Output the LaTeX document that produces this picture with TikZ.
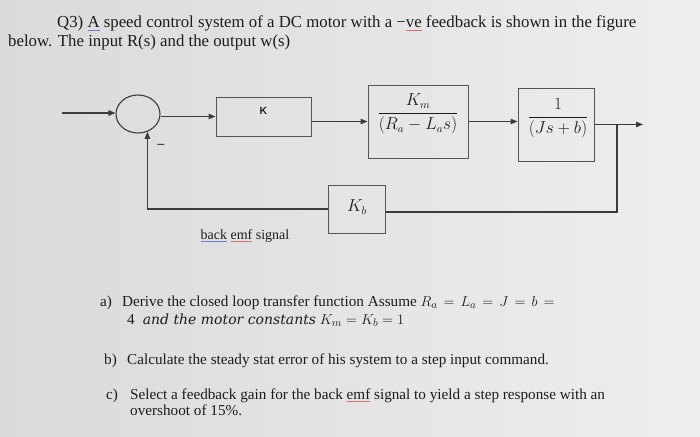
\documentclass[tikz,border=0pt]{standalone}
\usepackage{amsmath}
\usepackage{fontspec}
\setmainfont{Liberation Serif}
\newfontfamily\widit{DejaVu Serif}
\usetikzlibrary{arrows.meta,shapes.geometric,calc}
\definecolor{bgl}{RGB}{218,218,218}
\definecolor{bgr}{RGB}{238,238,240}
\definecolor{linec}{RGB}{60,60,64}
\definecolor{boxc}{RGB}{85,85,88}
\definecolor{txtc}{RGB}{28,28,30}
\definecolor{sqred}{RGB}{215,110,110}
\definecolor{sqblue}{RGB}{100,125,210}
\newcommand\redwave[1]{\setbox0\hbox{#1}\rlap{\textcolor{sqred}{\rule[-2.6pt]{\wd0}{0.7pt}}}\box0\relax}
\newcommand\bluewave[1]{\setbox0\hbox{#1}\rlap{\textcolor{sqblue}{\rule[-2.6pt]{\wd0}{0.7pt}}}\box0\relax}
\begin{document}
\begin{tikzpicture}[x=1pt,y=-1pt,
  conn/.style={draw=linec, line width=1.1pt},
  arr/.style={conn,-{Triangle[length=7pt,width=5.5pt]}},
  blk/.style={draw=boxc, line width=1pt, rectangle, inner sep=0pt},
  mathl/.style={font=\fontsize{16}{19}\selectfont, inner sep=0pt, text=txtc},
  qtext/.style={anchor=base west, inner sep=0pt, font=\fontsize{15.2}{18}\selectfont, text=txtc},
  ttext/.style={anchor=base west, inner sep=0pt, font=\fontsize{16.8}{20}\selectfont, text=txtc},
]
\shade[left color=bgl, right color=bgr] (0,0) rectangle (700,436);
\useasboundingbox (0,0) rectangle (700,436);

% title
\node[ttext] (t1) at (57,28) {Q3) \bluewave{A} speed control system of a DC motor with a −\redwave{ve} feedback is shown in the figure};
\node[ttext] (t2) at (8,46) {below. The input R(s) and the output w(s)};

% blocks
\node[ellipse, draw=linec, line width=1.1pt, minimum width=44pt, minimum height=38pt, inner sep=0pt] (sum) at (138,114) {};
\node[blk, minimum width=95pt, minimum height=39pt] (kbox) at (263.5,116.5) {};
\node[font=\sffamily\bfseries\fontsize{10.5}{12}\selectfont, inner sep=0pt, text=txtc] (klab) at (263.5,111) {K};
\node[blk, minimum width=100pt, minimum height=73pt] (kmbox) at (418,121.5) {};
\node[mathl] (kmtf) at (418,114) {$\dfrac{K_m}{(R_a - L_a s)}$};
\node[blk, minimum width=76pt, minimum height=73pt] (tfbox) at (556,124.5) {};
\node[mathl] (tftf) at (558,118) {$\dfrac{1}{(Js + b)}$};
\node[blk, minimum width=57pt, minimum height=48pt] (kbbox) at (356.5,209) {};
\node[mathl] (kblab) at (357,207) {$K_b$};

\coordinate (in) at (62,113);
\coordinate (out) at (643,124.5);
\coordinate (br) at (617,124.5);
\coordinate (fb) at (617,212);

\draw[arr] (in) -- (in -| sum.west);
\draw[arr] (sum.east |- kbox.west) -- (kbox.west);
\draw[arr] (kbox.east |- kmbox.west) -- (kmbox.west);
\draw[arr] (kmbox.east) -- (kmbox.east -| tfbox.west);
\draw[arr] (tfbox.east) -- (out);
\draw[conn] (br) -- (fb) -- (fb -| kbbox.east);
\draw[arr] (kbbox.west) -| (sum.-62);

\node[font=\sffamily\bfseries\fontsize{13}{14}\selectfont, inner sep=0pt, text=txtc] (minus) at (161,146) {–};
\node[font=\fontsize{14}{16}\selectfont, inner sep=0pt, text=txtc] (bemf) at (245,236) {\bluewave{back} \redwave{emf} signal};

% questions
\node[qtext] (qa) at (100,306) {\makebox[22pt][l]{a)}Derive the closed loop transfer function Assume {\thickmuskip=7.5mu plus 2mu $R_a = L_a = J = b =$}};
\node[qtext] (qa2) at (127,324) {4\hspace{8pt}{\widit\itshape\fontsize{14}{16}\selectfont and the motor constants} $K_m = K_b = 1$};
\node[qtext] (qb) at (104,364) {\makebox[23pt][l]{b)}Calculate the steady stat error of his system to a step input command.};
\node[qtext] (qc) at (106,399.5) {\makebox[24pt][l]{c)}Select a feedback gain for the back \redwave{emf} signal to yield a step response with an};
\node[qtext] (qc2) at (130,415) {overshoot of 15\%.};
\end{tikzpicture}
\end{document}
